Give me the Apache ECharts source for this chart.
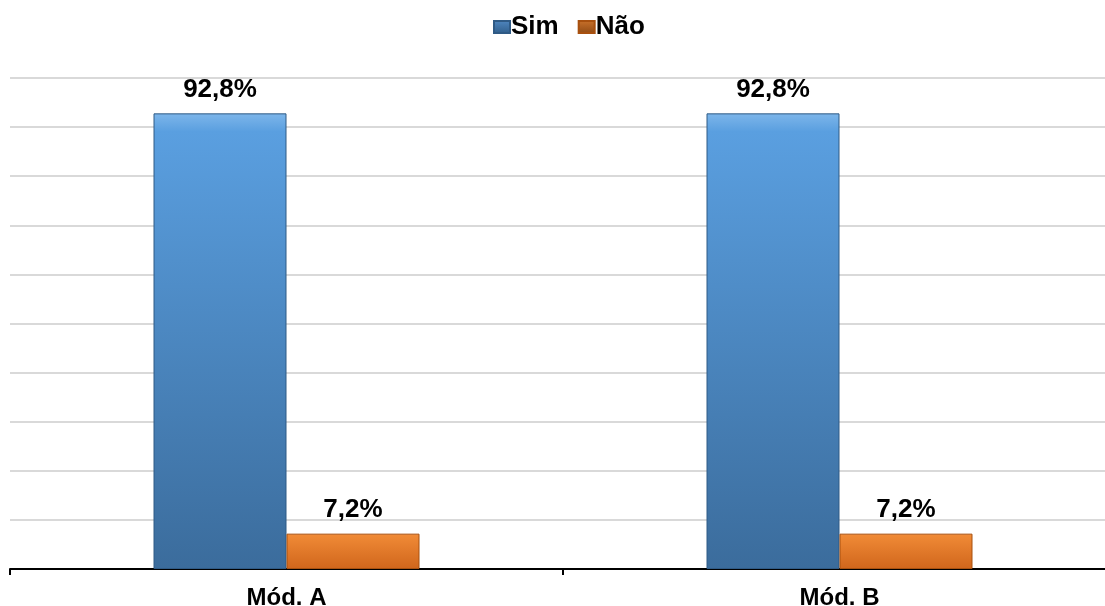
<!DOCTYPE html>
<html><head><meta charset="utf-8">
<script src="https://cdn.jsdelivr.net/npm/echarts@6/dist/echarts.min.js"></script>
<style>html,body{margin:0;padding:0;background:#fff}#c{width:1105px;height:606px}</style>
</head><body><div id="c"></div>
<script>
const categories = ['Mód. A', 'Mód. B'];
const seriesNames = ['Sim', 'Não'];
const simValues = [92.8, 92.8];
const naoValues = [7.2, 7.2];

function grad(top, mid, bot) {
  return new echarts.graphic.LinearGradient(0, 0, 0, 1, [
    {offset: 0, color: top}, {offset: 0.04, color: mid}, {offset: 1, color: bot}
  ]);
}
const blue = grad('#7db6ea', '#5a9fe0', '#3b6c9c');
const orange = grad('#f7a25e', '#f08a36', '#d0661c');
const fmt = p => p.value.toFixed(1).replace('.', ',') + '%';
const labelStyle = {show: true, position: 'top', distance: 11, formatter: fmt,
  fontFamily: 'Liberation Sans, Arial', fontWeight: 'bold', fontSize: 26, color: '#000'};

const chart = echarts.init(document.getElementById('c'));
chart.setOption({
  animation: false,
  legend: {
    top: 9, left: 488, itemWidth: 16, itemHeight: 12, itemGap: 19,
    icon: 'rect',
    textStyle: {fontFamily: 'Liberation Sans, Arial', fontWeight: 'bold', fontSize: 26, color: '#000', padding: [0,0,0,-4]},
    data: [
      {name: seriesNames[0], itemStyle: {color: grad('#6fa6d8', '#4f86bf', '#2f5d8a')}},
      {name: seriesNames[1], itemStyle: {color: grad('#e8914c', '#c8702a', '#8f4a14')}}
    ]
  },
  grid: {left: 10, top: 78, width: 1106, bottom: 37, containLabel: false, outerBoundsMode: 'none'},
  xAxis: {
    type: 'category', data: categories,
    axisLine: {lineStyle: {color: '#000', width: 2}},
    axisTick: {show: true, length: 6, lineStyle: {color: '#000', width: 2}},
    axisLabel: {fontFamily: 'Liberation Sans, Arial', fontWeight: 'bold', fontSize: 24, color: '#000', margin: 17}
  },
  yAxis: {
    type: 'value', min: 0, max: 100, interval: 10,
    axisLabel: {show: false}, axisLine: {show: false}, axisTick: {show: false},
    splitLine: {lineStyle: {color: '#d9d9d9', width: 2}}
  },
  series: [
    {name: seriesNames[0], type: 'bar', data: simValues, barWidth: 133, barGap: '0%',
      itemStyle: {color: blue, borderColor: '#2f5a85', borderWidth: 1}, label: labelStyle},
    {name: seriesNames[1], type: 'bar', data: naoValues, barWidth: 133, barGap: '0%',
      itemStyle: {color: orange, borderColor: '#a8500f', borderWidth: 1}, label: labelStyle}
  ]
});
</script></body></html>
